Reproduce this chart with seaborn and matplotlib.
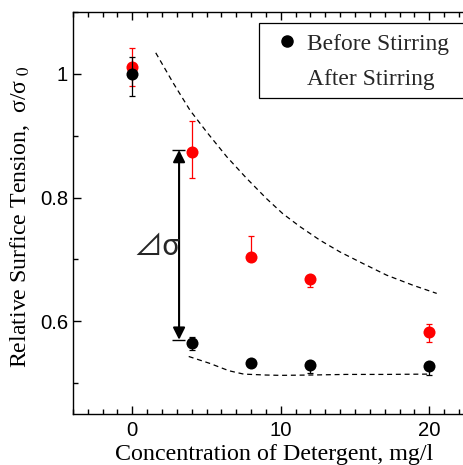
import matplotlib
matplotlib.use('Agg')
import matplotlib.pyplot as plt
from matplotlib.lines import Line2D
from matplotlib.patches import Rectangle
from matplotlib.ticker import MultipleLocator, FuncFormatter
import seaborn as sns
import pandas as pd

# data
conc = [0, 4, 8, 12, 20]
before = [1.000, 0.564, 0.533, 0.530, 0.528]
before_lo = [0.036, 0.010, 0.004, 0.014, 0.015]
before_hi = [0.027, 0.011, 0.004, 0.0, 0.0]
after = [1.011, 0.873, 0.704, 0.668, 0.583]
after_lo = [0.030, 0.041, 0.0, 0.013, 0.016]
after_hi = [0.031, 0.050, 0.034, 0.0, 0.012]

# dashed guide curves
upper_x = [1.58, 2.76, 3.89, 5.01, 6.36, 7.70, 9.05, 10.13, 11.29, 12.64,
           13.99, 15.56, 17.13, 18.92, 20.5]
upper_y = [1.034, 0.985, 0.941, 0.906, 0.866, 0.831, 0.798, 0.774, 0.753, 0.731,
           0.712, 0.693, 0.6745, 0.658, 0.645]
lower_x = [3.8, 5.2, 6.5, 7.5, 9.0, 10.0, 12.0, 14.4, 17.0, 20.0]
lower_y = [0.543, 0.532, 0.520, 0.5145, 0.513, 0.5125, 0.513, 0.514, 0.514, 0.5145]

# delta sigma arrow
arrow_x = 3.15
arrow_top = 0.877
arrow_bottom = 0.570

df = pd.DataFrame({'conc': conc, 'before': before, 'after': after})

sns.set_style('ticks')
plt.rcParams['font.family'] = ['Liberation Sans', 'DejaVu Sans']
plt.rcParams['mathtext.fontset'] = 'stix'

W, H = 464, 465
fig = plt.figure(figsize=(W / 100, H / 100), dpi=100)
ax = fig.add_axes([72.9 / W, 51 / H, (466.4 - 72.9) / W, 402 / H])

# after stirring (red)
ax.errorbar(conc, after, yerr=[after_lo, after_hi], fmt='none', ecolor='red',
            elinewidth=0.9, capsize=2.5, capthick=0.9, zorder=2)
sns.scatterplot(data=df, x='conc', y='after', color='red', s=75, linewidth=0,
                ax=ax, zorder=3)
# before stirring (black)
ax.errorbar(conc, before, yerr=[before_lo, before_hi], fmt='none', ecolor='black',
            elinewidth=0.9, capsize=2.5, capthick=0.9, zorder=4)
sns.scatterplot(data=df, x='conc', y='before', color='black', s=75, linewidth=0,
                ax=ax, zorder=5)

# dashed curves
sns.lineplot(x=upper_x, y=upper_y, color='black', lw=0.9, linestyle=(0, (4, 3)),
             sort=False, estimator=None, errorbar=None, ax=ax)
sns.lineplot(x=lower_x, y=lower_y, color='black', lw=0.9, linestyle=(0, (4, 3)),
             sort=False, estimator=None, errorbar=None, ax=ax)

# delta sigma arrow with end bars
ax.annotate('', xy=(arrow_x, arrow_top), xytext=(arrow_x, arrow_bottom),
            arrowprops=dict(arrowstyle='<|-|>,head_length=0.4,head_width=0.2',
                            mutation_scale=18, color='black', lw=1.5,
                            shrinkA=0, shrinkB=0))
ax.hlines([arrow_top, arrow_bottom], arrow_x - 0.45, arrow_x + 0.4,
          color='black', lw=1.0)
ax.text(1.65, 0.72, '⊿σ', ha='center', va='center', fontsize=21,
        family=['Noto Sans CJK JP', 'DejaVu Sans'])

ax.set_xlim(-4, 22.5)
ax.set_ylim(0.45, 1.1)
ax.xaxis.set_major_locator(MultipleLocator(10))
ax.xaxis.set_minor_locator(MultipleLocator(1))
ax.yaxis.set_major_locator(MultipleLocator(0.2))
ax.yaxis.set_minor_locator(MultipleLocator(0.1))
ax.yaxis.set_major_formatter(FuncFormatter(lambda v, p: f'{v:g}'))
ax.tick_params(which='both', direction='in', top=True, right=False,
               width=1.0, color='black', labelsize=14.6, labelcolor='black')
ax.tick_params(which='major', length=6)
ax.tick_params(which='minor', length=3.4)
ax.tick_params(axis='x', pad=5)
ax.tick_params(axis='y', pad=3.5)
for s in ax.spines.values():
    s.set_linewidth(1.0)
    s.set_color('black')
ax.spines['right'].set_visible(False)

ax.set_xlabel('Concentration of Detergent, mg/l', family='Liberation Serif',
              fontsize=17.3, color='black')
ax.set_ylabel('Relative Surfice Tension,  σ/σ$_{\\ 0}$', family='Liberation Serif',
              fontsize=17.2, color='black')
ax.xaxis.set_label_coords(0.512, -0.075)
ax.yaxis.set_label_coords(-0.105, 0.49)

# legend: the box runs past the right edge of the picture
box = Rectangle((259.3 / W, 1 - 97.7 / H), 300 / W, (97.7 - 23.3) / H,
                transform=fig.transFigure, facecolor='white', edgecolor='black',
                linewidth=0.9, clip_on=False, zorder=6)
ax.add_patch(box)
handles = [Line2D([], [], marker='o', color='black', ls='none', markersize=8),
           Line2D([], [], ls='none')]
leg = ax.legend(handles, ['Before Stirring', 'After Stirring'],
                loc='upper left',
                bbox_to_anchor=(259.3 / W, 1 - 23.3 / H),
                bbox_transform=fig.transFigure,
                prop={'family': 'Liberation Serif', 'size': 16.9},
                handlelength=1.5, handletextpad=0.1, labelspacing=0.6,
                borderpad=0.42, borderaxespad=0, frameon=False)
leg.set_zorder(7)

fig.savefig('out.png', dpi=100)
